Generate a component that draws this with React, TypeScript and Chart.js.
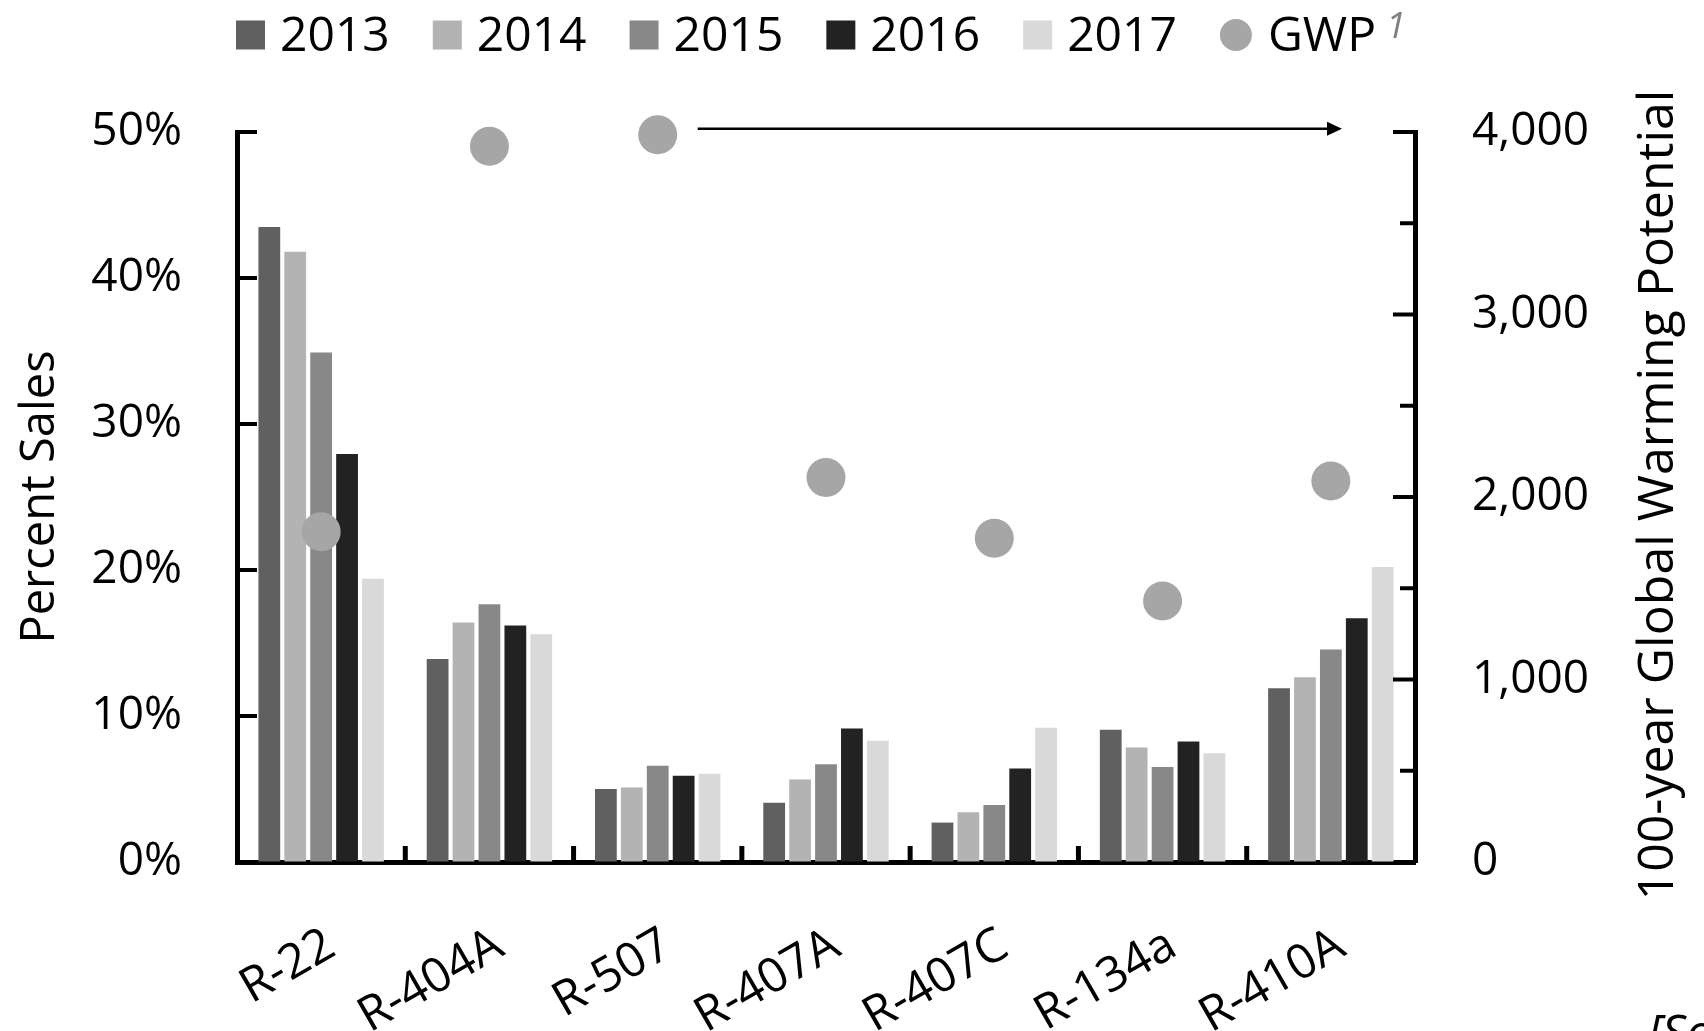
import React, { useEffect, useRef } from "react";
import { Chart, registerables } from "chart.js";

Chart.register(...registerables);

// ---- data ----
const categories = ["R-22", "R-404A", "R-507", "R-407A", "R-407C", "R-134a", "R-410A"];
const years = ["2013", "2014", "2015", "2016", "2017"];
const sales2013 = [43.5, 13.9, 5.0, 4.05, 2.7, 9.05, 11.9];
const sales2014 = [41.8, 16.4, 5.1, 5.65, 3.4, 7.85, 12.65];
const sales2015 = [34.9, 17.65, 6.6, 6.7, 3.9, 6.5, 14.55];
const sales2016 = [27.95, 16.2, 5.9, 9.15, 6.4, 8.25, 16.7];
const sales2017 = [19.4, 15.6, 6.05, 8.3, 9.2, 7.45, 20.2];
const gwp = [1810, 3922, 3985, 2107, 1774, 1430, 2088];
const gwpLabel = "GWP";
const gwpFootnote = "1";
const leftTitle = "Percent Sales";
const rightTitle = "100-year Global Warming Potential";
const sourceText = "[Source]";

const yearColors = ["#606060", "#b3b3b3", "#888888", "#222222", "#d9d9d9"];
const gwpColor = "#a6a6a6";
const FONT = "'Open Sans', 'DejaVu Sans', sans-serif";

const decorPlugin = {
  id: "decor",
  afterDraw(chart: any) {
    const ctx = chart.ctx as CanvasRenderingContext2D;
    const area = chart.chartArea;
    const xs = chart.scales.x;
    const ys = chart.scales.y;
    const y1 = chart.scales.y1;
    ctx.save();
    ctx.strokeStyle = "#000";
    ctx.fillStyle = "#000";
    ctx.lineCap = "butt";

    // left inner ticks
    ctx.lineWidth = 4;
    const lt = ys.ticks.map((t: any) => t.value).filter((v: number) => v > 0);
    for (const v of lt) {
      const py = ys.getPixelForValue(v);
      ctx.beginPath();
      ctx.moveTo(area.left, py);
      ctx.lineTo(area.left + 20, py);
      ctx.stroke();
    }
    // right inner ticks (major + minor)
    const maxR = y1.max;
    for (let v = 500; v <= maxR; v += 500) {
      const py = y1.getPixelForValue(v);
      const len = v % 1000 === 0 ? 22 : 15;
      ctx.beginPath();
      ctx.moveTo(area.right, py);
      ctx.lineTo(area.right - len, py);
      ctx.stroke();
    }
    // category separators on x axis
    ctx.lineWidth = 5;
    for (let i = 1; i < categories.length; i++) {
      const px = (xs.getPixelForValue(i - 1) + xs.getPixelForValue(i)) / 2;
      ctx.beginPath();
      ctx.moveTo(px, area.bottom);
      ctx.lineTo(px, area.bottom - 16);
      ctx.stroke();
    }

    // arrow from R-507 GWP point to right axis
    const py507 = y1.getPixelForValue(gwp[2]) - 6;
    const ax0 = xs.getPixelForValue(2) + 40;
    const ax1 = area.right - 73;
    ctx.lineWidth = 2.5;
    ctx.beginPath();
    ctx.moveTo(ax0, py507);
    ctx.lineTo(ax1 - 10, py507);
    ctx.stroke();
    ctx.beginPath();
    ctx.moveTo(ax1, py507);
    ctx.lineTo(ax1 - 15, py507 - 7);
    ctx.lineTo(ax1 - 15, py507 + 7);
    ctx.closePath();
    ctx.fill();

    // right axis title (reads bottom to top)
    ctx.save();
    ctx.font = `50px ${FONT}`;
    ctx.textAlign = "center";
    ctx.textBaseline = "middle";
    ctx.translate(1659, (area.top + area.bottom) / 2 - 2);
    ctx.rotate(-Math.PI / 2);
    ctx.fillText(rightTitle, 0, 0);
    ctx.restore();

    // legend
    ctx.font = `48px ${FONT}`;
    ctx.textBaseline = "middle";
    ctx.textAlign = "left";
    let lx = 236;
    const ly = 35;
    chart.data.datasets.forEach((ds: any) => {
      const isPoint = ds.type === "line";
      let textX;
      if (isPoint) {
        ctx.fillStyle = ds.backgroundColor;
        ctx.beginPath();
        ctx.arc(lx + 16, ly, 16, 0, Math.PI * 2);
        ctx.fill();
        textX = lx + 48;
      } else {
        ctx.fillStyle = ds.backgroundColor;
        ctx.fillRect(lx, ly - 14.5, 29, 29);
        textX = lx + 44;
      }
      ctx.fillStyle = "#000";
      ctx.font = `48px ${FONT}`;
      ctx.fillText(ds.label, textX, ly + 2);
      const w = ctx.measureText(ds.label).width;
      if (isPoint) {
        ctx.save();
        ctx.font = `italic 36px ${FONT}`;
        ctx.fillStyle = "#7f7f7f";
        ctx.textBaseline = "alphabetic";
        ctx.fillText(gwpFootnote, textX + w + 10, 38);
        ctx.restore();
      }
      lx = textX + w + 43;
    });

    // cut-off source note
    ctx.font = `italic 48px ${FONT}`;
    ctx.fillStyle = "#000";
    ctx.textBaseline = "alphabetic";
    ctx.textAlign = "left";
    ctx.fillText(sourceText, 1648, 1049);

    ctx.restore();
  },
};

export default function App() {
  const canvasRef = useRef<HTMLCanvasElement | null>(null);

  useEffect(() => {
    document.body.style.overflow = "hidden";
    const canvas = canvasRef.current;
    if (!canvas) return;
    const barSeries = [sales2013, sales2014, sales2015, sales2016, sales2017];
    const datasets: any[] = barSeries.map((d, i) => ({
      type: "bar",
      label: years[i],
      data: d,
      backgroundColor: yearColors[i],
      borderWidth: 0,
      yAxisID: "y",
      order: 1,
      categoryPercentage: 0.77,
      barPercentage: 0.84,
    }));
    datasets.push({
      type: "line",
      label: gwpLabel,
      data: gwp,
      yAxisID: "y1",
      showLine: false,
      clip: false,
      pointRadius: 19.5,
      pointHoverRadius: 19.5,
      pointBorderWidth: 0,
      pointBackgroundColor: gwpColor,
      backgroundColor: gwpColor,
      borderColor: gwpColor,
      order: 0,
    });

    const chart = new Chart(canvas, {
      type: "bar",
      data: { labels: categories, datasets },
      plugins: [decorPlugin],
      options: {
        responsive: false,
        animation: false,
        devicePixelRatio: 1,
        layout: { padding: { top: 132, left: 0, right: 0, bottom: 0 } },
        plugins: {
          legend: { display: false },
          tooltip: { enabled: false },
        },
        scales: {
          x: {
            grid: { display: true, drawOnChartArea: false, drawTicks: false },
            border: { display: true, color: "#000", width: 5 },
            ticks: {
              color: "#000",
              font: { size: 48, family: FONT },
              minRotation: 30,
              maxRotation: 30,
              padding: 55,
              labelOffset: 10,
              autoSkip: false,
            },
            afterFit: (s: any) => {
              s.height = 169;
            },
          },
          y: {
            position: "left",
            min: 0,
            max: 50,
            grid: { display: true, drawOnChartArea: false, drawTicks: false },
            border: { display: true, color: "#000", width: 5 },
            ticks: {
              stepSize: 10,
              color: "#000",
              font: { size: 46, family: FONT },
              padding: 55,
              callback: (v: any) => `${v}%`,
            },
            title: {
              display: true,
              text: leftTitle,
              color: "#000",
              font: { size: 47, family: FONT },
              padding: { top: 12, bottom: 0 },
            },
            afterFit: (s: any) => {
              s.width = 237;
            },
          },
          y1: {
            position: "right",
            min: 0,
            max: 4000,
            grid: { display: true, drawOnChartArea: false, drawTicks: false },
            border: { display: true, color: "#000", width: 5 },
            ticks: {
              stepSize: 1000,
              color: "#000",
              font: { size: 46, family: FONT },
              padding: 57,
              callback: (v: any) => Number(v).toLocaleString("en-US"),
            },
            afterFit: (s: any) => {
              s.width = 1704 - 1415;
            },
          },
        },
      } as any,
    });

    let cancelled = false;
    if ((document as any).fonts && (document as any).fonts.ready) {
      (document as any).fonts.ready.then(() => {
        if (!cancelled) chart.update();
      });
    }
    return () => {
      cancelled = true;
      chart.destroy();
    };
  }, []);

  return (
    <div style={{ position: "absolute", left: 0, top: 0, width: 1704, height: 1031, background: "#fff" }}>
      <canvas ref={canvasRef} width={1704} height={1031} style={{ width: 1704, height: 1031, display: "block" }} />
    </div>
  );
}
